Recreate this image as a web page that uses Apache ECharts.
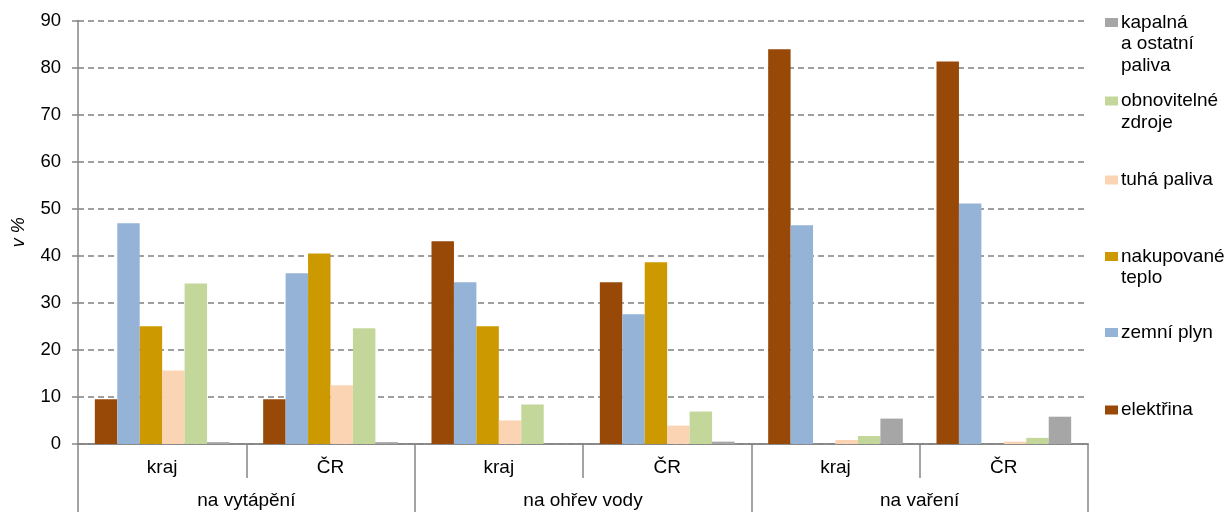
<!DOCTYPE html>
<html>
<head>
<meta charset="utf-8">
<script src="https://cdn.jsdelivr.net/npm/echarts@6/dist/echarts.min.js"></script>
<style>
html,body{margin:0;padding:0;background:#fff;}
#chart{width:1231px;height:512px;}
</style>
</head>
<body>
<div id="chart"></div>
<script>
// ---- data ----
const subCategories = ['kraj', 'ČR', 'kraj', 'ČR', 'kraj', 'ČR'];
const groupCategories = ['na vytápění', 'na ohřev vody', 'na vaření'];
const seriesNames = ['elektřina', 'zemní plyn', 'nakupované teplo', 'tuhá paliva', 'obnovitelné zdroje', 'kapalná a ostatní paliva'];
const legendLabels = ['elektřina', 'zemní plyn', 'nakupované\nteplo', 'tuhá paliva', 'obnovitelné\nzdroje', 'kapalná\na ostatní\npaliva'];
const elektrina   = [9.5, 9.5, 43.1, 34.4, 83.9, 81.3];
const zemniPlyn   = [46.9, 36.3, 34.4, 27.6, 46.5, 51.1];
const nakupovane  = [25.0, 40.5, 25.0, 38.6, 0, 0];
const tuhaPaliva  = [15.6, 12.5, 5.0, 3.9, 0.85, 0.5];
const obnovitelne = [34.1, 24.6, 8.4, 6.9, 1.7, 1.3];
const kapalna     = [0.4, 0.4, 0, 0.5, 5.4, 5.8];
const yTicks = [0, 10, 20, 30, 40, 50, 60, 70, 80, 90];

// ---- styling ----
const seriesData = [elektrina, zemniPlyn, nakupovane, tuhaPaliva, obnovitelne, kapalna];
const colors = ['#984807', '#95B3D7', '#CC9A00', '#FBD4B4', '#C4D79B', '#A6A6A6'];
const FONT = '"Liberation Sans", Arial, sans-serif';
const axisGray = '#868686';
const gridGray = '#808080';
const legendIconY = [410, 332.5, 256.5, 180, 101, 22.5];
const LH = 21.5;

const chart = echarts.init(document.getElementById('chart'));

const legends = seriesNames.map((name, i) => {
  const lines = legendLabels[i].split('\n');
  const n = lines.length;
  const padded = '\n'.repeat(n - 1) + legendLabels[i];
  const blockH = (2 * n - 1) * LH;
  return {
    data: [name],
    left: 1105,
    top: legendIconY[i] - blockH / 2,
    padding: 0,
    itemWidth: 13,
    itemHeight: 9,
    itemGap: 3,
    icon: 'rect',
    selectedMode: false,
    formatter: () => padded,
    textStyle: { fontFamily: FONT, fontSize: 19, color: '#000', lineHeight: LH, padding: [0, 0, 0, -2] }
  };
});

const option = {
  animation: false,
  color: colors,
  textStyle: { fontFamily: FONT },
  grid: { left: 78, right: 143, top: 20.5, bottom: 68, containLabel: false },
  legend: legends,
  xAxis: [
    {
      type: 'category',
      data: subCategories,
      position: 'bottom',
      axisLine: { lineStyle: { color: axisGray, width: 1.5 } },
      axisTick: { show: true, length: 34, interval: 0, lineStyle: { color: axisGray, width: 1.5 } },
      axisLabel: { interval: 0, margin: 14, fontFamily: FONT, fontSize: 19, color: '#000' }
    },
    {
      type: 'category',
      data: groupCategories,
      position: 'bottom',
      axisLine: { lineStyle: { color: axisGray, width: 1.5 } },
      axisTick: { show: true, length: 70, interval: 0, lineStyle: { color: axisGray, width: 1.5 } },
      axisLabel: { interval: 0, margin: 47, fontFamily: FONT, fontSize: 19, color: '#000' }
    }
  ],
  yAxis: {
    type: 'value',
    min: yTicks[0],
    max: yTicks[yTicks.length - 1],
    interval: yTicks[1] - yTicks[0],
    name: 'v %',
    nameLocation: 'middle',
    nameRotate: 90,
    nameGap: 50,
    nameTextStyle: { fontFamily: FONT, fontSize: 18, fontStyle: 'italic', color: '#000' },
    axisLine: { show: true, lineStyle: { color: axisGray, width: 1.5 } },
    axisTick: { show: true, length: 6, lineStyle: { color: axisGray, width: 1.5 } },
    axisLabel: { margin: 17, fontFamily: FONT, fontSize: 18.5, color: '#000' },
    splitLine: { show: true, lineStyle: { color: gridGray, width: 1.5, type: [6, 4] } }
  },
  series: seriesNames.map((name, i) => ({
    name: name,
    type: 'bar',
    xAxisIndex: 0,
    data: seriesData[i],
    barGap: '0%',
    barCategoryGap: '20%',
    itemStyle: { color: colors[i] }
  }))
};
chart.setOption(option);
</script>
</body>
</html>
